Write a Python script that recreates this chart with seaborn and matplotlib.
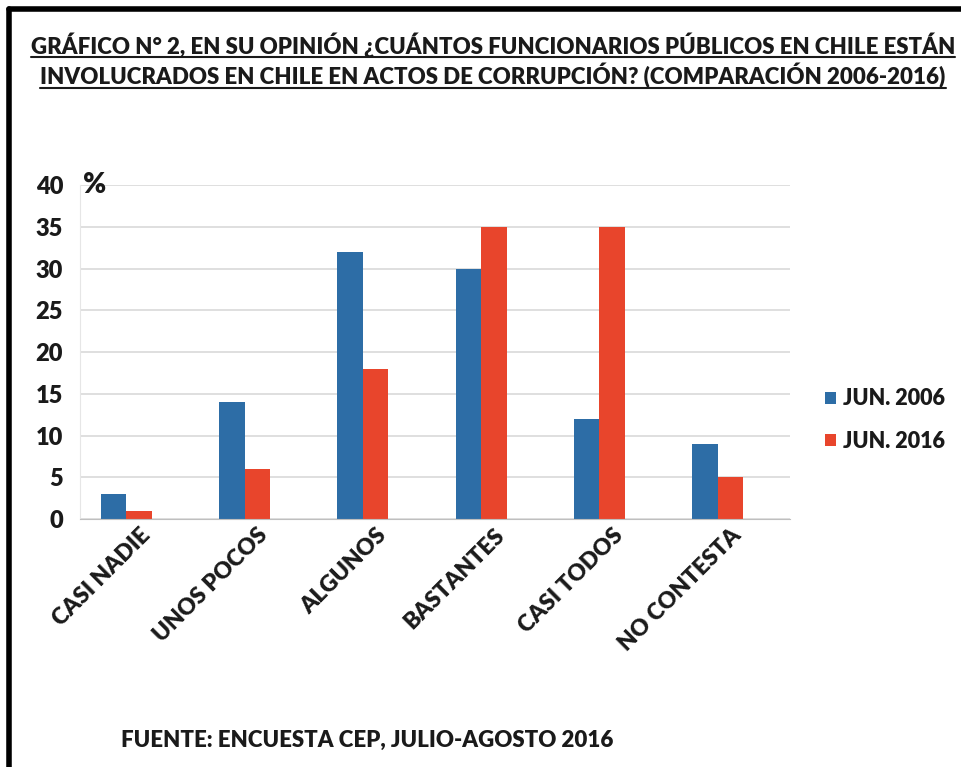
import pandas as pd
import numpy as np
import seaborn as sns
import matplotlib.pyplot as plt
from matplotlib.lines import Line2D

# Data
categories = ['CASI NADIE', 'UNOS POCOS', 'ALGUNOS', 'BASTANTES', 'CASI TODOS', 'NO CONTESTA']
jun_2006 = [3, 14, 32, 30, 12, 9]
jun_2016 = [1, 6, 18, 35, 35, 5]
# the original Excel chart keeps room for a third, empty series
empty_serie = [np.nan] * 6
series_names = ['JUN. 2006', 'JUN. 2016', '']
colors = ['#2d6da6', '#e8452c', '#ffffff']

df = pd.DataFrame({
    'cat': categories * 3,
    'value': jun_2006 + jun_2016 + empty_serie,
    'serie': [s for s in series_names for _ in categories],
})

sns.set_style('white')
plt.rcParams['font.family'] = ['Lato', 'DejaVu Sans']
plt.rcParams['text.color'] = '#1a1a1a'

fig = plt.figure(figsize=(9.62, 7.67), dpi=100)
ax = fig.add_axes([0.083, 0.3233, 0.738, 0.4355])

sns.barplot(data=df, x='cat', y='value', hue='serie', hue_order=series_names,
            palette=colors, width=0.65, gap=0, saturation=1, linewidth=0,
            ax=ax, legend=True)

ax.set_ylim(0, 40)
ax.set_xlim(-0.5, 5.5)
ax.set_yticks(np.arange(0, 41, 5))
ax.yaxis.grid(True, color='#d9d9d9', linewidth=1.2)
ax.set_axisbelow(True)
ax.set_xlabel('')
ax.set_ylabel('')

for s in ['top', 'right']:
    ax.spines[s].set_visible(False)
ax.spines['left'].set_color('#e6e6e6')
ax.spines['bottom'].set_color('#bfbfbf')

ax.tick_params(axis='y', length=0, labelsize=17, pad=12, labelcolor='#1a1a1a')
ax.tick_params(axis='x', which='major', length=0, labelsize=16.5, pad=4, labelcolor='#1a1a1a')
ax.set_xticks(np.arange(-0.5, 6, 1), minor=True)
ax.tick_params(axis='x', which='minor', length=6, color='#bfbfbf')
ax.set_xticklabels(categories, rotation=45, ha='right', rotation_mode='anchor')
for lab in ax.get_xticklabels() + ax.get_yticklabels():
    lab.set_fontweight('heavy')

ax.text(0.005, 40, '%', fontsize=20, fontweight='heavy', va='center', ha='left',
        transform=ax.get_yaxis_transform())

# legend (only the two real series)
handles, labels = ax.get_legend_handles_labels()
ax.legend(handles[:2], labels[:2], loc='upper left', bbox_to_anchor=(806 / 962, 1 - 369 / 767),
          bbox_transform=fig.transFigure, frameon=False,
          handlelength=0.5, handleheight=0.5, handletextpad=0.3, labelspacing=1.0,
          prop={'weight': 'heavy', 'size': 15.5})

# title with underline
titles = ['GRÁFICO N° 2, EN SU OPINIÓN ¿CUÁNTOS FUNCIONARIOS PÚBLICOS EN CHILE ESTÁN',
          'INVOLUCRADOS EN CHILE EN ACTOS DE CORRUPCIÓN? (COMPARACIÓN 2006-2016)']
title_y = [1 - 45 / 767, 1 - 76 / 767]
txts = []
for t, y in zip(titles, title_y):
    txts.append(fig.text(493 / 962, y, t, ha='center', va='center', fontsize=16,
                         fontweight='heavy'))

fig.text(121 / 962, 1 - 740 / 767, 'FUENTE: ENCUESTA CEP, JULIO-AGOSTO 2016',
         ha='left', va='center', fontsize=16, fontweight='heavy')

fig.canvas.draw()
renderer = fig.canvas.get_renderer()
for t in txts:
    bb = t.get_window_extent(renderer).transformed(fig.transFigure.inverted())
    fig.add_artist(Line2D([bb.x0, bb.x1], [bb.y0 + 0.001, bb.y0 + 0.001],
                          transform=fig.transFigure, color='#1a1a1a', linewidth=1.5))

# frame around the figure
fig.add_artist(Line2D([9 / 962, 9 / 962], [0, 1 - 9 / 767], transform=fig.transFigure,
                      color='black', linewidth=4))
fig.add_artist(Line2D([9 / 962, 1], [1 - 9 / 767, 1 - 9 / 767], transform=fig.transFigure,
                      color='black', linewidth=4))

fig.savefig('out.png', dpi=100)
